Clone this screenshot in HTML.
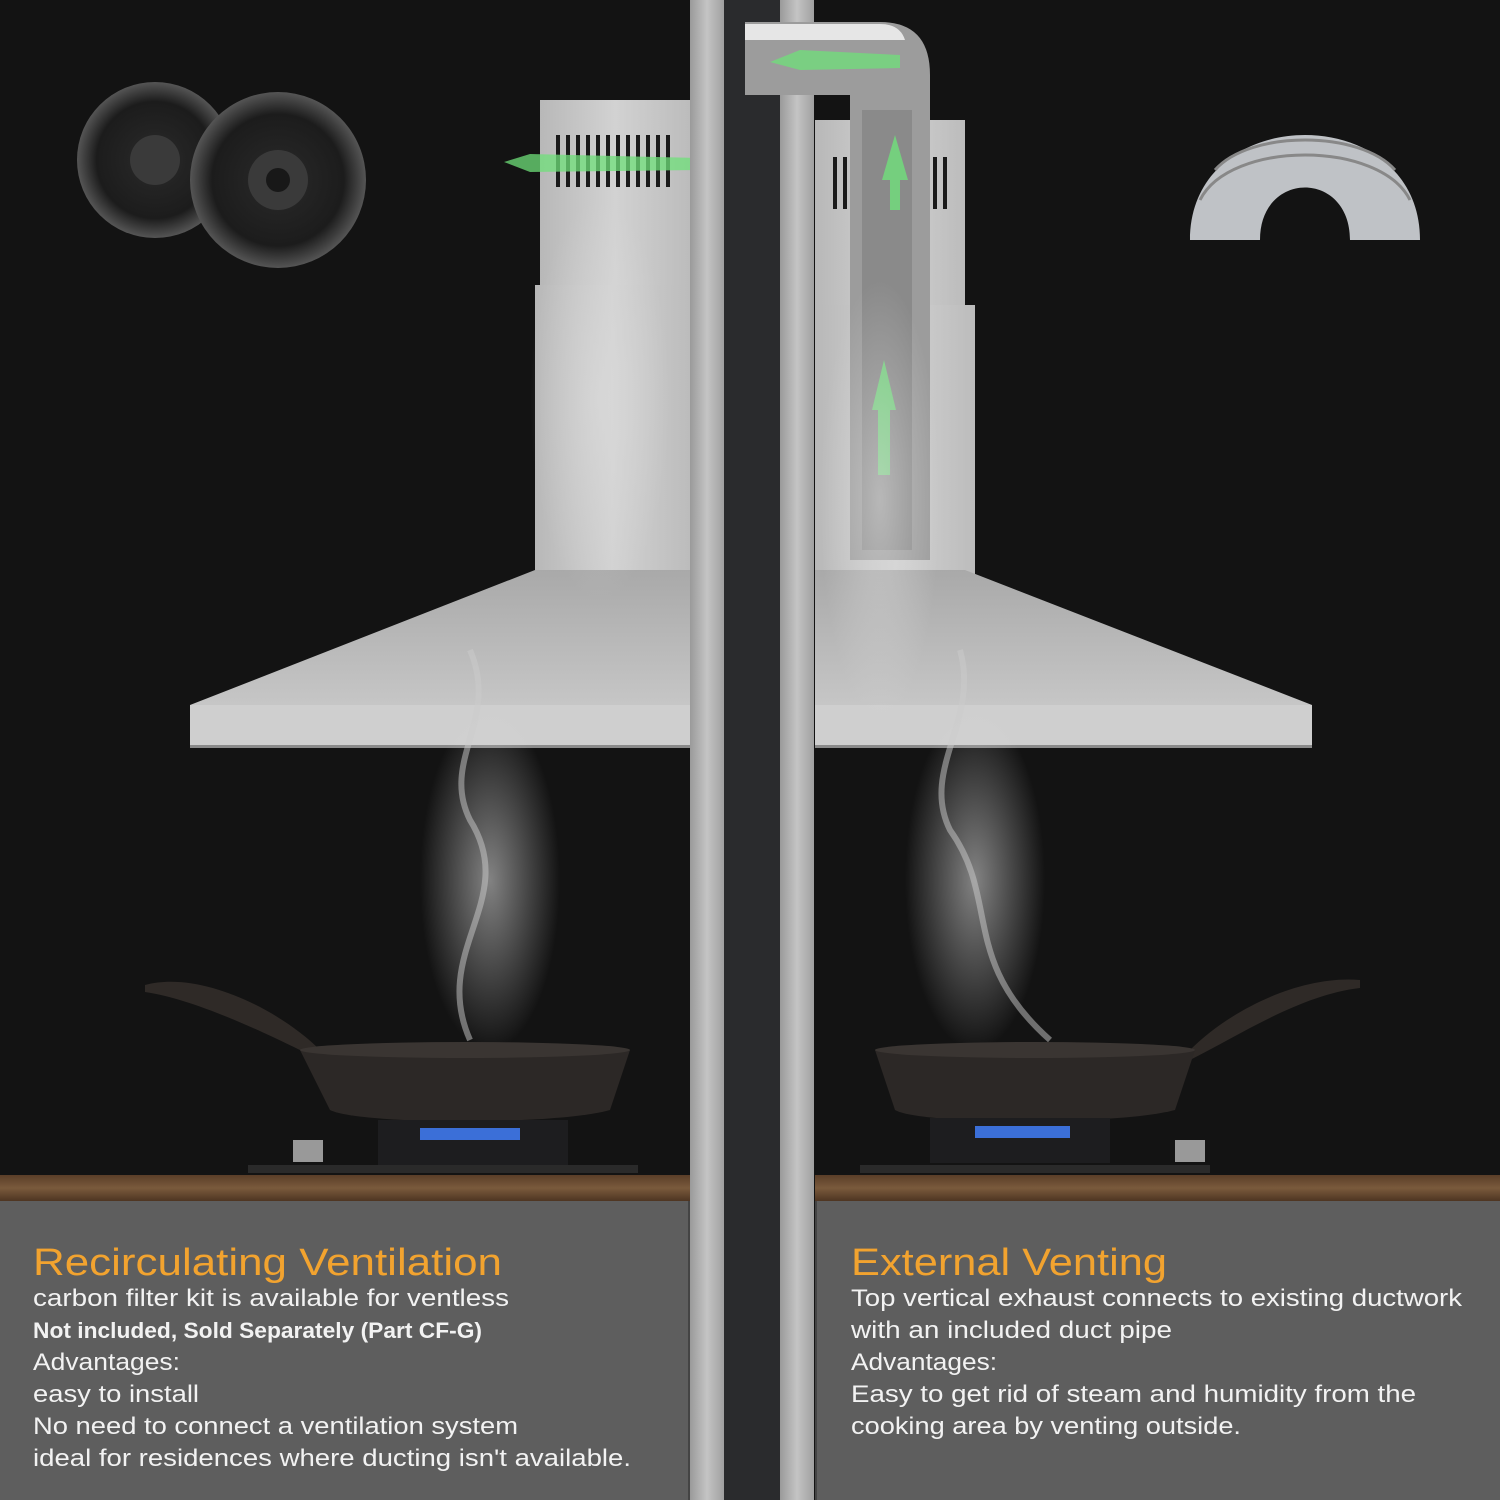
<!DOCTYPE html>
<html><head><meta charset="utf-8"><style>
html,body{margin:0;padding:0;background:#131313;}
svg{display:block}
text{font-family:"Liberation Sans",sans-serif;}
</style></head><body>
<svg width="1500" height="1500" viewBox="0 0 1500 1500" xmlns="http://www.w3.org/2000/svg">
<defs>
<linearGradient id="steel" x1="0" x2="1" y1="0" y2="0"><stop offset="0" stop-color="#b8b8b8"/><stop offset="0.5" stop-color="#d2d2d2"/><stop offset="1" stop-color="#bcbcbc"/></linearGradient>
<linearGradient id="canopy" x1="0" x2="0" y1="0" y2="1"><stop offset="0" stop-color="#a9a9a9"/><stop offset="1" stop-color="#c6c6c6"/></linearGradient>
<linearGradient id="bar" x1="0" x2="1"><stop offset="0" stop-color="#9a9a9a"/><stop offset="0.5" stop-color="#c4c4c4"/><stop offset="1" stop-color="#a0a0a0"/></linearGradient>
<linearGradient id="wood" x1="0" x2="0" y1="0" y2="1"><stop offset="0" stop-color="#5a3e28"/><stop offset="0.5" stop-color="#7a5a3c"/><stop offset="1" stop-color="#4e3522"/></linearGradient>
<radialGradient id="smoke" cx="0.5" cy="0.5" r="0.5"><stop offset="0" stop-color="#ddd" stop-opacity="0.55"/><stop offset="1" stop-color="#ddd" stop-opacity="0"/></radialGradient>
<radialGradient id="filt" cx="0.5" cy="0.5" r="0.5"><stop offset="0" stop-color="#2a2a2a"/><stop offset="0.75" stop-color="#1c1c1c"/><stop offset="1" stop-color="#555"/></radialGradient>
</defs>
<rect width="1500" height="1500" fill="#131313"/>
<rect x="724" y="0" width="56" height="1500" fill="#2a2b2d"/>

<!-- LEFT HOOD -->
<rect x="540" y="100" width="150" height="190" fill="url(#steel)"/>
<rect x="535" y="285" width="155" height="290" fill="url(#steel)"/>
<g fill="#1a1a1a">
<rect x="556" y="135" width="4" height="52"/><rect x="566" y="135" width="4" height="52"/><rect x="576" y="135" width="4" height="52"/><rect x="586" y="135" width="4" height="52"/><rect x="596" y="135" width="4" height="52"/><rect x="606" y="135" width="4" height="52"/><rect x="616" y="135" width="4" height="52"/><rect x="626" y="135" width="4" height="52"/><rect x="636" y="135" width="4" height="52"/><rect x="646" y="135" width="4" height="52"/><rect x="656" y="135" width="4" height="52"/><rect x="666" y="135" width="4" height="52"/></g>
<path d="M504 162 L530 154 L700 158 L705 165 L700 170 L530 172 Z" fill="#6fe07a" opacity="0.75"/>
<polygon points="535,570 690,570 690,705 190,705" fill="url(#canopy)"/>
<rect x="190" y="705" width="500" height="43" fill="#cfcfcf"/>
<rect x="190" y="745" width="500" height="3" fill="#8a8a8a"/>

<!-- RIGHT HOOD -->
<rect x="815" y="120" width="150" height="190" fill="url(#steel)"/>
<rect x="815" y="305" width="160" height="270" fill="url(#steel)"/>
<g fill="#1a1a1a">
<rect x="833" y="157" width="4" height="52"/><rect x="843" y="157" width="4" height="52"/><rect x="933" y="157" width="4" height="52"/><rect x="943" y="157" width="4" height="52"/></g>
<polygon points="815,570 965,570 1312,705 815,705" fill="url(#canopy)"/>
<rect x="815" y="705" width="497" height="43" fill="#cfcfcf"/>
<rect x="815" y="745" width="497" height="3" fill="#8a8a8a"/>

<!-- vertical bars -->
<rect x="690" y="0" width="34" height="1500" fill="url(#bar)"/>
<rect x="780" y="0" width="34" height="1500" fill="url(#bar)"/>

<!-- duct -->
<path d="M745 22 L880 22 Q930 22 930 75 L930 560 L850 560 L850 95 L745 95 Z" fill="#9c9c9c"/>
<path d="M745 24 L880 24 Q900 24 905 40 L745 40 Z" fill="#e6e6e6"/>
<rect x="862" y="110" width="50" height="440" fill="#777" opacity="0.5"/>
<path d="M770 62 L800 50 L900 55 L900 68 L800 70 Z" fill="#6fe07a" opacity="0.75"/>
<path d="M895 135 L908 180 L900 180 L900 210 L890 210 L890 180 L882 180 Z" fill="#6fe07a" opacity="0.8"/>
<path d="M884 360 L896 410 L890 410 L890 475 L878 475 L878 410 L872 410 Z" fill="#6fe07a" opacity="0.8"/>

<!-- smoke -->
<ellipse cx="490" cy="880" rx="70" ry="170" fill="url(#smoke)"/>
<ellipse cx="600" cy="400" rx="70" ry="200" fill="url(#smoke)"/>
<ellipse cx="975" cy="880" rx="70" ry="170" fill="url(#smoke)"/>
<ellipse cx="880" cy="500" rx="60" ry="220" fill="url(#smoke)"/>
<path d="M470 1040 C430 950 520 900 470 820 C440 760 500 720 470 650" stroke="#ccc" stroke-width="6" fill="none" opacity="0.5"/>
<path d="M1050 1040 C960 960 1000 900 950 830 C920 770 980 720 960 650" stroke="#ccc" stroke-width="6" fill="none" opacity="0.5"/>

<!-- filters -->
<circle cx="155" cy="160" r="78" fill="url(#filt)"/>
<circle cx="155" cy="160" r="25" fill="#3a3a3a"/>
<circle cx="278" cy="180" r="88" fill="url(#filt)"/>
<circle cx="278" cy="180" r="30" fill="#3a3a3a"/>
<circle cx="278" cy="180" r="12" fill="#181818"/>
<!-- flexible duct -->
<path d="M1190 240 C1190 100 1420 100 1420 240 L1350 240 C1350 170 1260 170 1260 240 Z" fill="#bfc2c6"/>
<path d="M1200 200 C1230 140 1380 140 1410 200" stroke="#888" stroke-width="3" fill="none"/>
<path d="M1215 170 C1250 130 1360 130 1395 170" stroke="#888" stroke-width="3" fill="none"/>

<!-- pans -->
<path d="M145 985 C200 970 280 1010 320 1050 L320 1060 C280 1040 200 1000 145 992 Z" fill="#2f2a27"/>
<path d="M300 1050 L630 1050 L610 1110 C560 1125 360 1125 330 1110 Z" fill="#2c2826"/>
<ellipse cx="465" cy="1050" rx="165" ry="8" fill="#3a3532"/>
<path d="M1360 980 C1300 975 1230 1010 1190 1050 L1190 1060 C1240 1035 1300 995 1360 988 Z" fill="#2f2a27"/>
<path d="M875 1050 L1195 1050 L1175 1110 C1120 1125 920 1125 895 1110 Z" fill="#2c2826"/>
<ellipse cx="1035" cy="1050" rx="160" ry="8" fill="#3a3532"/>
<!-- burners -->
<rect x="378" y="1120" width="190" height="45" fill="#1d1d1f"/>
<rect x="420" y="1128" width="100" height="12" fill="#3b6fd8"/>
<rect x="930" y="1118" width="180" height="45" fill="#1d1d1f"/>
<rect x="975" y="1126" width="95" height="12" fill="#3b6fd8"/>
<rect x="248" y="1165" width="390" height="8" fill="#2a2a2a"/>
<rect x="860" y="1165" width="350" height="8" fill="#2a2a2a"/>
<rect x="293" y="1140" width="30" height="22" fill="#999"/>
<rect x="1175" y="1140" width="30" height="22" fill="#999"/>

<!-- counter -->
<rect x="0" y="1175" width="690" height="26" fill="url(#wood)"/>
<rect x="815" y="1175" width="685" height="26" fill="url(#wood)"/>
<rect x="0" y="1201" width="690" height="299" fill="#5e5e5e"/>
<rect x="815" y="1201" width="685" height="299" fill="#5e5e5e"/>
<rect x="688" y="1201" width="2" height="299" fill="#444"/>
<rect x="815" y="1201" width="2" height="299" fill="#444"/>

<!-- text -->
<text x="33" y="1275" font-size="38" fill="#f2a32f" textLength="469" lengthAdjust="spacingAndGlyphs">Recirculating Ventilation</text>
<g font-size="24" fill="#f2f2f2" lengthAdjust="spacingAndGlyphs">
<text x="33" y="1306" textLength="476" lengthAdjust="spacingAndGlyphs">carbon filter kit is available for ventless</text>
<text x="33" y="1338" font-weight="bold" font-size="22" textLength="449" lengthAdjust="spacingAndGlyphs">Not included, Sold Separately (Part CF-G)</text>
<text x="33" y="1370" textLength="147" lengthAdjust="spacingAndGlyphs">Advantages:</text>
<text x="33" y="1402" textLength="166" lengthAdjust="spacingAndGlyphs">easy to install</text>
<text x="33" y="1434" textLength="485" lengthAdjust="spacingAndGlyphs">No need to connect a ventilation system</text>
<text x="33" y="1466" textLength="598" lengthAdjust="spacingAndGlyphs">ideal for residences where ducting isn't available.</text>
</g>
<text x="851" y="1275" font-size="38" fill="#f2a32f" textLength="316" lengthAdjust="spacingAndGlyphs">External Venting</text>
<g font-size="24" fill="#f2f2f2">
<text x="851" y="1306" textLength="611" lengthAdjust="spacingAndGlyphs">Top vertical exhaust connects to existing ductwork</text>
<text x="851" y="1338" textLength="321" lengthAdjust="spacingAndGlyphs">with an included duct pipe</text>
<text x="851" y="1370" textLength="146" lengthAdjust="spacingAndGlyphs">Advantages:</text>
<text x="851" y="1402" textLength="565" lengthAdjust="spacingAndGlyphs">Easy to get rid of steam and humidity from the</text>
<text x="851" y="1434" textLength="390" lengthAdjust="spacingAndGlyphs">cooking area by venting outside.</text>
</g>
</svg>
</body></html>
